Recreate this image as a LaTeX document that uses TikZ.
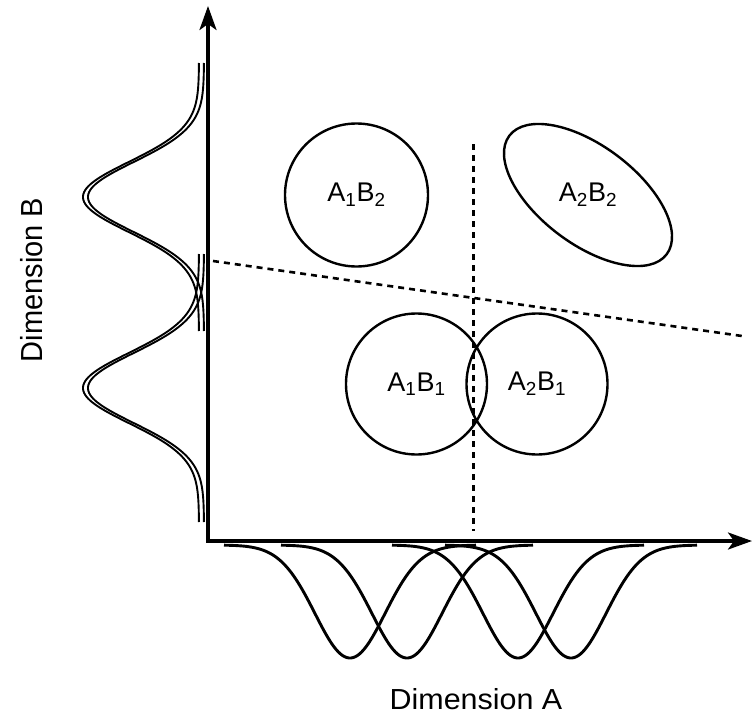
\documentclass[tikz,border=0pt]{standalone}
\usepackage{fontspec}
\setmainfont{Liberation Sans}
\usetikzlibrary{arrows.meta,shapes.geometric}
\begin{document}
\begin{tikzpicture}[x=1pt,y=-1pt,
  axis/.style={line width=3.4pt,{Stealth[length=24pt,width=17pt,inset=6pt]}-{Stealth[length=24pt,width=17pt,inset=6pt]}},
  region/.style={draw,line width=2.4pt,inner sep=0pt,font=\fontsize{27}{30}\selectfont},
  dashline/.style={line width=2.6pt,dash pattern=on 6pt off 5pt},
  curveA/.style={line width=2.9pt},
  curveB/.style={line width=1.9pt},
  dimlabel/.style={font=\fontsize{29}{32}\selectfont,xscale=1.05}]
\useasboundingbox (0,0) rectangle (752,717);
\fill[white] (0,0) rectangle (752,717);
% axes
\coordinate (origin) at (208,541);
\coordinate (ytop) at (208,6);
\coordinate (xend) at (752,541);
\draw[axis] (ytop) -- (origin) -- (xend);
% regions
\node[region,circle,minimum size=143pt] (a1b2) at (356.5,195) {A\textsubscript{1}B\textsubscript{2}};
\node[region,ellipse,minimum width=197pt,minimum height=98pt,rotate=-37] (a2b2e) at (588,195) {};
\node[font=\fontsize{27}{30}\selectfont] (a2b2) at (588,195) {A\textsubscript{2}B\textsubscript{2}};
\node[region,circle,minimum size=141pt] (a1b1) at (416.5,384) {A\textsubscript{1}B\textsubscript{1}};
\node[region,circle,minimum size=141pt] (a2b1) at (537,384) {A\textsubscript{2}B\textsubscript{1}};
% boundaries
\coordinate (vtop) at (473.5,144);
\coordinate (vbot) at (473.5,531);
\draw[dashline] (vtop) -- (vbot);
\coordinate (dleft) at (213,261);
\coordinate (dright) at (742,336);
\draw[dashline] (dleft) -- (dright);
% dimension A distributions
\foreach \c in {350,407,518,571}{
  \draw[curveA] plot[domain={\c-126}:{\c+126},samples=120,smooth] (\x,{545+113*exp(-0.5*((\x-\c)/35)^2)});
}
% dimension B distributions
\foreach \c in {197,388}{
  \foreach \b in {199,204}{
    \draw[curveB] plot[domain={\c-134}:{\c+134},samples=140,smooth,variable=\t] ({\b-116*exp(-0.5*((\t-\c)/35)^2)},\t);
  }
}
% labels
\node[dimlabel] (dima) at (476,699) {Dimension A};
\node[dimlabel,rotate=90] (dimb) at (32,280) {Dimension B};
\end{tikzpicture}
\end{document}
